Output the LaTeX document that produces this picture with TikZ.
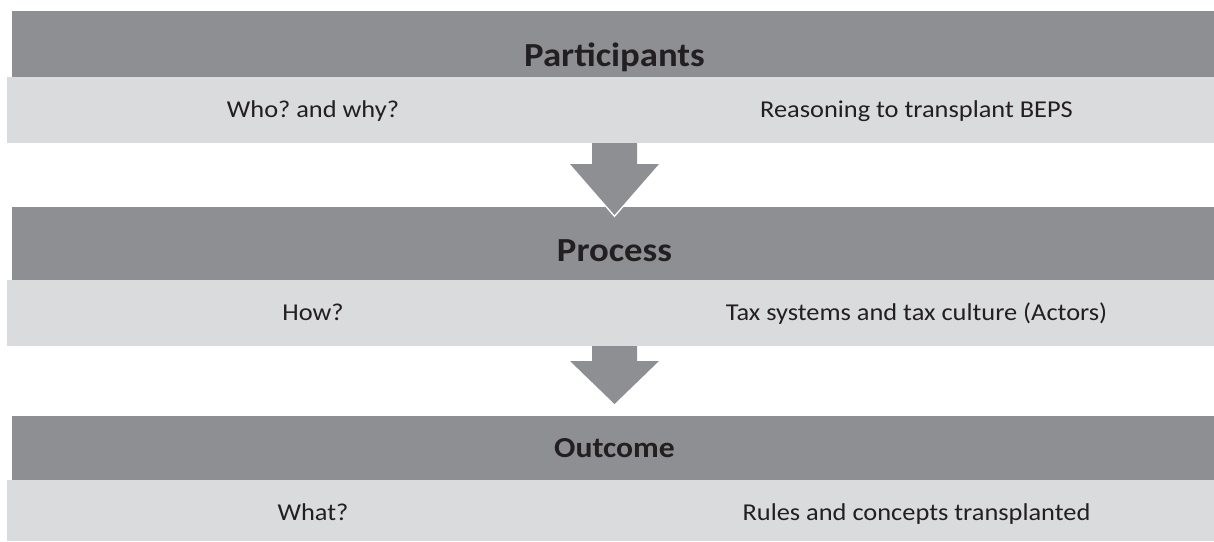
\documentclass[tikz,border=0pt]{standalone}
\usepackage{fontspec}
\setmainfont{Carlito}[FakeStretch=1.09]
\definecolor{dk}{RGB}{142,143,147}
\definecolor{lt}{RGB}{218,219,221}
\definecolor{tx}{RGB}{35,31,32}
\frenchspacing
\begin{document}
\begin{tikzpicture}[x=1pt,y=-1pt,
  darkbar/.style={fill=dk,draw=none,inner sep=0pt,anchor=north west,minimum width=1202pt},
  lightbar/.style={fill=lt,draw=none,inner sep=0pt,anchor=north west,minimum width=1207pt},
  title/.style={text=tx,font=\fontsize{33.7}{38}\selectfont\bfseries,anchor=base,inner sep=0pt},
  subtitle/.style={text=tx,font=\fontsize{29}{34}\selectfont\bfseries,anchor=base,inner sep=0pt},
  label/.style={text=tx,font=\fontsize{24.2}{29}\selectfont,anchor=base,inner sep=0pt},
  arrowfill/.style={fill=dk},
  arrowhalo/.style={draw=white,line width=3pt,line join=miter}]
\useasboundingbox (0,0) rectangle (1214,541);
% section 1
\node[darkbar,minimum height=66pt] (d1) at (12,11) {};
\node[lightbar,minimum height=66pt] (l1) at (7,77) {};
% section 2
\node[darkbar,minimum height=73pt] (d2) at (12,207) {};
\node[lightbar,minimum height=66pt] (l2) at (7,280) {};
% section 3
\node[darkbar,minimum height=64pt] (d3) at (12,416) {};
\node[lightbar,minimum height=61pt] (l3) at (7,480) {};
% arrow 1
\coordinate (a1) at (614.5,143);
\draw[arrowhalo] ([xshift=-44.5pt,yshift=-21pt]a1) -- ([yshift=-72pt]a1) -- ([xshift=44.5pt,yshift=-21pt]a1);
\fill[arrowfill] ([xshift=-22.5pt]a1) -- ([xshift=-22.5pt,yshift=-21pt]a1) -- ([xshift=-44.5pt,yshift=-21pt]a1)
  -- ([yshift=-72pt]a1) -- ([xshift=44.5pt,yshift=-21pt]a1) -- ([xshift=22.5pt,yshift=-21pt]a1)
  -- ([xshift=22.5pt]a1) -- cycle;
% arrow 2
\coordinate (a2) at (614.5,346);
\fill[arrowfill] ([xshift=-22.5pt]a2) -- ([xshift=-22.5pt,yshift=-15pt]a2) -- ([xshift=-44.5pt,yshift=-15pt]a2)
  -- ([yshift=-58pt]a2) -- ([xshift=44.5pt,yshift=-15pt]a2) -- ([xshift=22.5pt,yshift=-15pt]a2)
  -- ([xshift=22.5pt]a2) -- cycle;
% texts
\node[title] (t1) at (614.5,66.7) {Participants};
\node[label] (w1) at (313,117.5) {Who? and why?};
\node[label] (r1) at (916.5,117.5) {Reasoning to transplant BEPS};
\node[title] (t2) at (614.5,261) {Process};
\node[label] (w2) at (313,320.5) {How?};
\node[label] (r2) at (916.5,320.5) {Tax systems and tax culture (Actors)};
\node[subtitle] (t3) at (614.5,457.3) {Outcome};
\node[label] (w3) at (313,520) {What?};
\node[label] (r3) at (916.5,520) {Rules and concepts transplanted};
\end{tikzpicture}
\end{document}
